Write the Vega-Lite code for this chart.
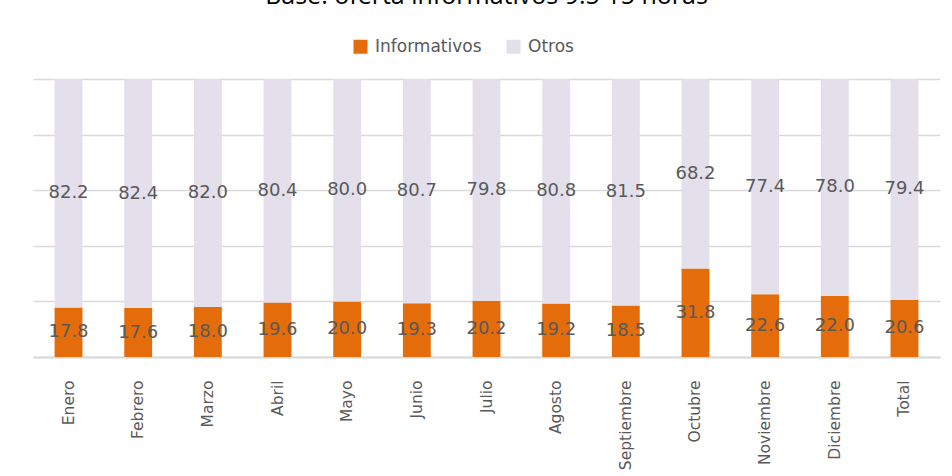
{
  "$schema": "https://vega.github.io/schema/vega-lite/v6.json",
  "width": 907,
  "height": 278,
  "autosize": {"type": "none"},
  "padding": {"left": 33, "top": 79, "right": 12, "bottom": 119},
  "background": "white",
  "title": {
    "text": "Base: oferta informativos 9:5 15 horas",
    "frame": "group",
    "anchor": "middle",
    "offset": 29,
    "font": "Open Sans",
    "fontSize": 25,
    "fontWeight": "normal",
    "color": "#000000"
  },
  "config": {
    "view": {"stroke": null},
    "font": "DejaVu Sans"
  },
  "data": {
    "values": [
      {"mes": "Enero", "serie": "Informativos", "v": 17.8},
      {"mes": "Enero", "serie": "Otros", "v": 82.2},
      {"mes": "Febrero", "serie": "Informativos", "v": 17.6},
      {"mes": "Febrero", "serie": "Otros", "v": 82.4},
      {"mes": "Marzo", "serie": "Informativos", "v": 18.0},
      {"mes": "Marzo", "serie": "Otros", "v": 82.0},
      {"mes": "Abril", "serie": "Informativos", "v": 19.6},
      {"mes": "Abril", "serie": "Otros", "v": 80.4},
      {"mes": "Mayo", "serie": "Informativos", "v": 20.0},
      {"mes": "Mayo", "serie": "Otros", "v": 80.0},
      {"mes": "Junio", "serie": "Informativos", "v": 19.3},
      {"mes": "Junio", "serie": "Otros", "v": 80.7},
      {"mes": "Julio", "serie": "Informativos", "v": 20.2},
      {"mes": "Julio", "serie": "Otros", "v": 79.8},
      {"mes": "Agosto", "serie": "Informativos", "v": 19.2},
      {"mes": "Agosto", "serie": "Otros", "v": 80.8},
      {"mes": "Septiembre", "serie": "Informativos", "v": 18.5},
      {"mes": "Septiembre", "serie": "Otros", "v": 81.5},
      {"mes": "Octubre", "serie": "Informativos", "v": 31.8},
      {"mes": "Octubre", "serie": "Otros", "v": 68.2},
      {"mes": "Noviembre", "serie": "Informativos", "v": 22.6},
      {"mes": "Noviembre", "serie": "Otros", "v": 77.4},
      {"mes": "Diciembre", "serie": "Informativos", "v": 22.0},
      {"mes": "Diciembre", "serie": "Otros", "v": 78.0},
      {"mes": "Total", "serie": "Informativos", "v": 20.6},
      {"mes": "Total", "serie": "Otros", "v": 79.4}
    ]
  },
  "transform": [
    {
      "stack": "v",
      "groupby": ["mes"],
      "sort": [{"field": "serie", "order": "ascending"}],
      "offset": "normalize",
      "as": ["y0", "y1"]
    },
    {"calculate": "(datum.y0 + datum.y1) / 2", "as": "ymid"}
  ],
  "encoding": {
    "x": {
      "field": "mes",
      "type": "nominal",
      "sort": null,
      "scale": {"paddingInner": 0.6, "paddingOuter": 0.31},
      "axis": {
        "title": null,
        "labelAngle": -90,
        "labelAlign": "right",
        "labelBaseline": "middle",
        "labelFontSize": 15.5,
        "labelFont": "DejaVu Sans",
        "labelColor": "#595959",
        "labelPadding": 23,
        "ticks": false,
        "domainColor": "#D9D9D9",
        "domainWidth": 2
      }
    }
  },
  "layer": [
    {
      "mark": {"type": "bar"},
      "encoding": {
        "y": {
          "field": "y0",
          "type": "quantitative",
          "scale": {"domain": [0, 1]},
          "axis": {
            "title": null,
            "labels": false,
            "ticks": false,
            "domain": false,
            "grid": true,
            "gridColor": "#D9D9D9",
            "gridWidth": 1.5,
            "values": [0, 0.2, 0.4, 0.6, 0.8, 1]
          }
        },
        "y2": {"field": "y1"},
        "color": {
          "field": "serie",
          "type": "nominal",
          "scale": {"domain": ["Informativos", "Otros"], "range": ["#E46C0A", "#E3DFEB"]},
          "legend": {
            "title": null,
            "orient": "none",
            "legendX": 319,
            "legendY": -41,
            "direction": "horizontal",
            "symbolType": "square",
            "symbolSize": 196,
            "symbolStrokeWidth": 0,
            "symbolOpacity": 1,
            "labelFontSize": 17,
            "labelFont": "DejaVu Sans",
            "labelColor": "#595959",
            "labelOffset": 6,
            "columnPadding": 23
          }
        }
      }
    },
    {
      "mark": {"type": "text", "fontSize": 18, "font": "DejaVu Sans", "color": "#595959"},
      "encoding": {
        "y": {"field": "ymid", "type": "quantitative"},
        "text": {"field": "v", "type": "quantitative", "format": ".1f"}
      }
    }
  ]
}
